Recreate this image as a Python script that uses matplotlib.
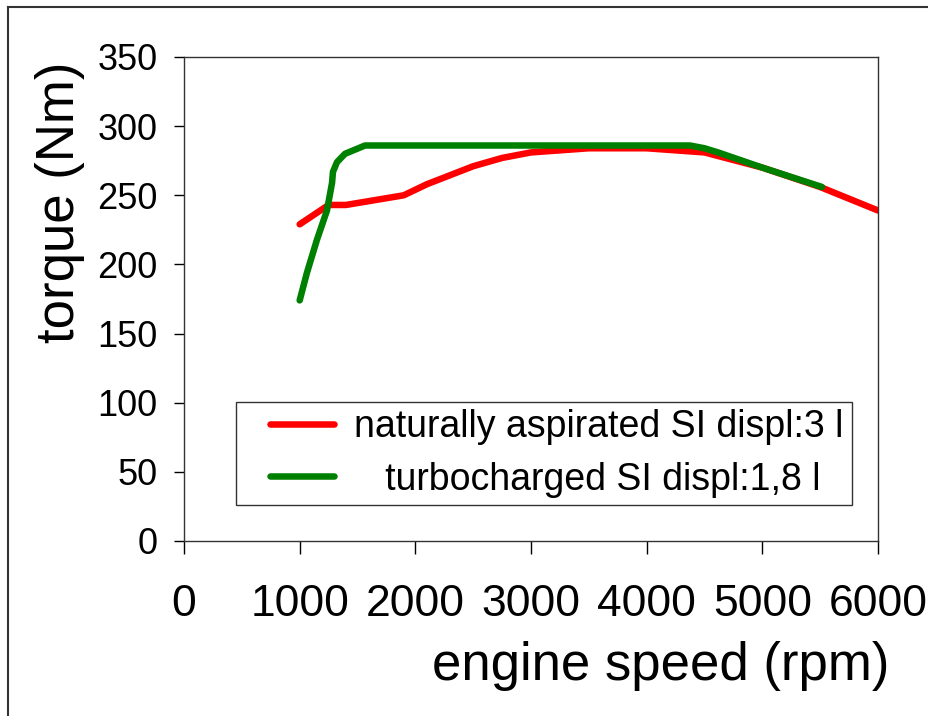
import matplotlib.pyplot as plt
from matplotlib.lines import Line2D
from matplotlib.legend_handler import HandlerLine2D

plt.rcParams['font.family'] = ['Liberation Sans', 'DejaVu Sans']

# naturally aspirated SI, 3 l
na_rpm = [1000, 1250, 1400, 1900, 2100, 2500, 2750, 3000, 3500, 4000, 4500, 5000, 5500, 6000]
na_torque = [229, 243, 243, 250, 258, 271, 277, 281, 284, 284, 281, 270, 256, 239]

# turbocharged SI, 1.8 l
tc_rpm = [1000, 1063, 1150, 1236, 1280, 1288, 1323, 1392, 1565, 4375, 4500, 4617, 5000, 5516]
tc_torque = [174, 194, 218, 239, 259, 267, 274, 280, 286, 286, 284, 281, 270, 256]

x_ticks = [0, 1000, 2000, 3000, 4000, 5000, 6000]
y_ticks = [0, 50, 100, 150, 200, 250, 300, 350]

W, H = 929, 716
fig = plt.figure(figsize=(W / 100, H / 100), dpi=100)
ax = fig.add_axes([184 / W, 1 - 541 / H, (878 - 184) / W, (541 - 57) / H])

ax.plot(na_rpm, na_torque, color='#ff0000', lw=4.7, solid_capstyle='round',
        solid_joinstyle='round', label='naturally aspirated SI displ:3 l')
ax.plot(tc_rpm, tc_torque, color='#008000', lw=4.7, solid_capstyle='round',
        solid_joinstyle='round', label='   turbocharged SI displ:1,8 l')

ax.set_xlim(0, 6000)
ax.set_ylim(0, 350)
ax.set_xticks(x_ticks)
ax.set_yticks(y_ticks)
ax.tick_params(axis='y', direction='out', length=7, width=1, pad=12, labelsize=26)
ax.tick_params(axis='x', direction='out', length=9, width=1, pad=22, labelsize=32)
for s in ax.spines.values():
    s.set_linewidth(1)
    s.set_color('#333333')

ax.set_xlabel('engine speed (rpm)', fontsize=38)
ax.xaxis.set_label_coords((661 - 184) / 694, (541 - 666) / 484)
ax.xaxis.label.set_va('center')
ax.set_ylabel('torque (Nm)', fontsize=38)
ax.yaxis.set_label_coords((60 - 184) / 694, (541 - 202) / 484)
ax.yaxis.label.set_va('center')

leg = ax.legend(loc='lower left', bbox_to_anchor=((236 - 184) / 694, (541 - 505) / 484,
                                                  (852 - 236) / 694, 0.0),
                mode='expand', borderaxespad=0,
                fontsize=27, handlelength=2.41, handletextpad=0.53, labelspacing=0.44,
                borderpad=0.2, fancybox=False, framealpha=1,
                handler_map={Line2D: HandlerLine2D(xpad=0.71)})
leg.get_frame().set_edgecolor('#333333')
leg.get_frame().set_linewidth(1)

# page border (left and top edges)
fig.add_artist(Line2D([8 / W, 8 / W], [0, 1 - 7 / H], color='#333333', lw=1.5))
fig.add_artist(Line2D([8 / W, 1], [1 - 7 / H, 1 - 7 / H], color='#333333', lw=1.5))

fig.savefig('out.png', dpi=100)
